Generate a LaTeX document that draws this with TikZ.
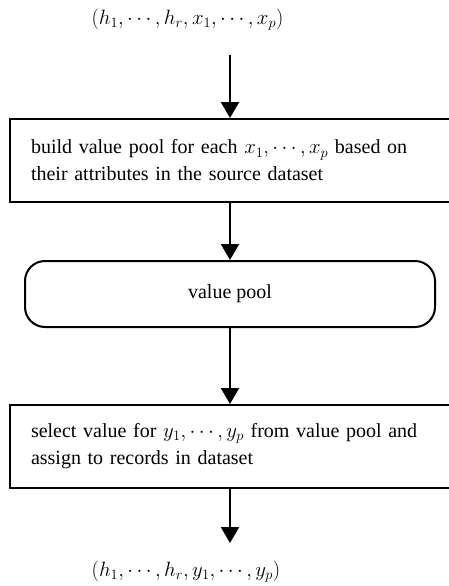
\documentclass[tikz,border=0pt]{standalone}
\usepackage{fontspec}
\setmainfont{Liberation Serif}
\DeclareMathSizes{20}{21}{15}{11}
\usetikzlibrary{arrows.meta}
\tikzset{
  procbox/.style={draw, line width=2pt, anchor=west, minimum height=83pt,
    text width=430pt, inner xsep=21pt, align=left, font=\fontsize{20}{27}\selectfont},
  poolbox/.style={draw, line width=2pt, rounded corners=20pt, minimum width=410pt,
    minimum height=66pt, align=center, font=\fontsize{20}{27}\selectfont},
  tuple/.style={font=\fontsize{20}{27}\selectfont, inner sep=0pt},
  flow/.style={line width=2.2pt, -{Triangle[width=18pt,length=16pt]}}
}
\begin{document}
\begin{tikzpicture}[x=1pt,y=-1pt]
\useasboundingbox (0,0) rectangle (448,586);
\node[tuple] (in) at (187.5,20) {$(h_1,\cdots,h_r,x_1,\cdots,x_p)$};
\coordinate (start) at (230,55);
\node[procbox] (build) at (9,160.5) {build value pool for each $x_1,\cdots,x_p$ based on\\their attributes in the source dataset};
\node[poolbox] (pool) at (230,294) {value pool};
\node[procbox] (select) at (9,446.5) {select value for $y_1,\cdots,y_p$ from value pool and\\assign to records in dataset};
\coordinate (stop) at (230,543);
\node[tuple] (out) at (186,572) {$(h_1,\cdots,h_r,y_1,\cdots,y_p)$};
\draw[flow] (start) -- (start |- build.north);
\draw[flow] (start |- build.south) -- (pool.north);
\draw[flow] (pool.south) -- (start |- select.north);
\draw[flow] (start |- select.south) -- (stop);
\end{tikzpicture}
\end{document}
